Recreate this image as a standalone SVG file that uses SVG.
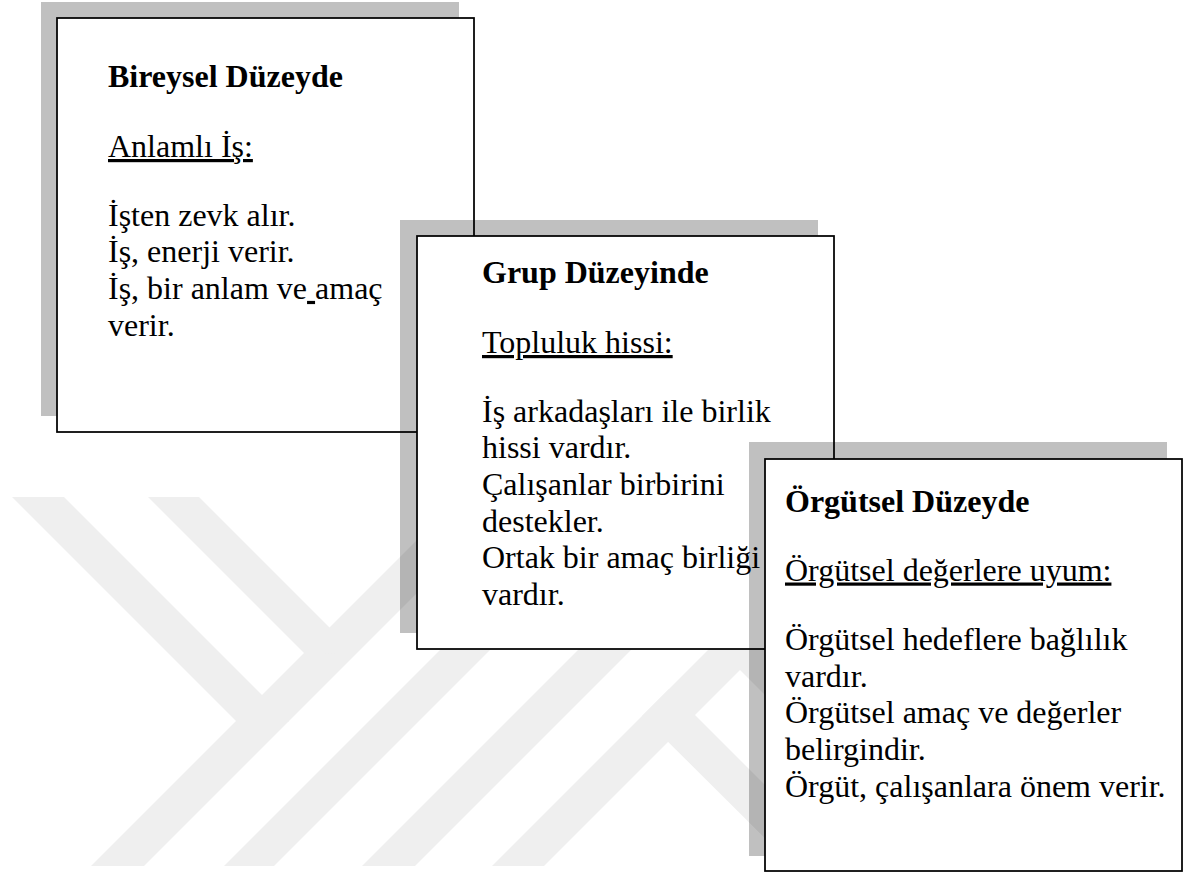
<svg xmlns="http://www.w3.org/2000/svg" width="1187" height="873" viewBox="0 0 1187 873">
  <style>
    .wm { fill: #efefef; }
    .shadow { fill: #c0c0c0; mix-blend-mode: multiply; }
    .box { fill: #ffffff; stroke: #000000; stroke-width: 1.75; }
    .t { font-family: "Liberation Serif", "Times New Roman", serif; font-size: 32px; fill: #000000; }
    .b { font-weight: bold; }
    .u { text-decoration: underline; }
  </style>
  <rect x="0" y="0" width="1187" height="873" fill="#ffffff"/>
  <g id="watermark">
    <polygon class="wm" points="91,866 144,866 470,540 417,540"/>
    <polygon class="wm" points="12,497 64,497 289,722 237,722"/>
    <polygon class="wm" points="148,497 199,497 356,654 304,653"/>
    <polygon class="wm" points="224,866 274,866 540,600 490,600"/>
    <polygon class="wm" points="362,866 415,866 681,600 628,600"/>
    <polygon class="wm" points="492,866 544,866 810,600 758,600"/>
    <polygon class="wm" points="642,716 669,689 846,866 793,866"/>
    <polygon class="wm" points="714,644 740,618 989,866 936,866"/>
  </g>
  <g id="connectors"></g>
  <g id="node-bireysel">
    <rect class="shadow" x="41" y="2" width="418" height="414"/>
    <rect class="box" x="57" y="18" width="417" height="414"/>
    <text class="t b" x="108" y="87">Bireysel Düzeyde</text>
    <text class="t u" x="108" y="157">Anlamlı İş:</text>
    <text class="t" x="108" y="225.5">İşten zevk alır.</text>
    <text class="t" x="108" y="262.2">İş, enerji verir.</text>
    <text class="t" x="108" y="298.9" xml:space="preserve">İş, bir anlam ve<tspan class="u"> </tspan>amaç</text>
    <text class="t" x="108" y="335.6">verir.</text>
  </g>
  <g id="node-grup">
    <rect class="shadow" x="400" y="220" width="418" height="413"/>
    <rect class="box" x="417" y="236" width="417" height="413"/>
    <text class="t b" x="482" y="283">Grup Düzeyinde</text>
    <text class="t u" x="482" y="353">Topluluk hissi:</text>
    <text class="t" x="482" y="421.5">İş arkadaşları ile birlik</text>
    <text class="t" x="482" y="458.2">hissi vardır.</text>
    <text class="t" x="482" y="494.9">Çalışanlar birbirini</text>
    <text class="t" x="482" y="531.6">destekler.</text>
    <text class="t" x="482" y="568.3">Ortak bir amaç birliği</text>
    <text class="t" x="482" y="605">vardır.</text>
  </g>
  <g id="node-orgutsel">
    <rect class="shadow" x="749" y="442" width="418" height="414"/>
    <rect class="box" x="765" y="459" width="417" height="412"/>
    <text class="t b" x="785" y="511.5">Örgütsel Düzeyde</text>
    <text class="t u" x="785" y="580.5">Örgütsel değerlere uyum:</text>
    <text class="t" x="785" y="650">Örgütsel hedeflere bağlılık</text>
    <text class="t" x="785" y="686.7">vardır.</text>
    <text class="t" x="785" y="723.4">Örgütsel amaç ve değerler</text>
    <text class="t" x="785" y="760.1">belirgindir.</text>
    <text class="t" x="785" y="796.8">Örgüt, çalışanlara önem verir.</text>
  </g>
</svg>
